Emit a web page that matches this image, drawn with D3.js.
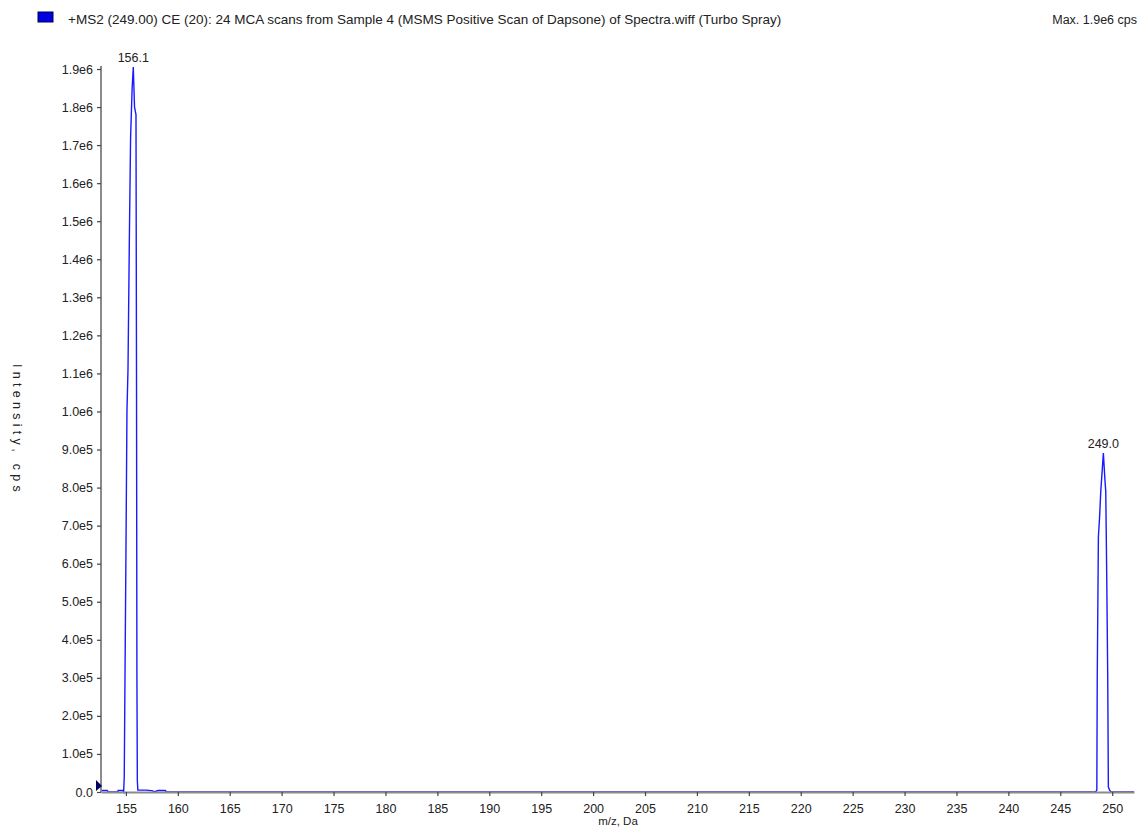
<!DOCTYPE html>
<html>
<head>
<meta charset="utf-8">
<script src="https://cdn.jsdelivr.net/npm/d3@7"></script>
<style>
  body { margin: 0; background: #fff; }
  svg text { font-family: "Liberation Sans", Arial, sans-serif; fill: #222; }
</style>
</head>
<body>
<svg width="1144" height="829"></svg>
<script>
// Spectrum profile (m/z, intensity in cps)
var mzValues = [152.6, 152.7, 153.2, 153.3, 154.2, 154.25, 154.7, 154.78, 154.84, 154.9,
                155.02, 155.1, 155.2, 155.33, 155.45, 155.6, 155.71, 155.83, 155.97, 156.02,
                156.06, 156.1, 156.15, 156.6, 157.0, 157.6, 157.7, 158.1, 158.8, 158.9,
                248.4, 248.52, 248.56, 248.67, 248.78, 248.9, 249.0, 249.15, 249.3, 249.38,
                249.47, 249.57, 249.63, 249.75, 249.89, 252.1];
var intensityValues = [0, 4000, 4000, 0, 0, 4000, 4000, 0, 40000, 260000,
                       690000, 1000000, 1110000, 1450000, 1720000, 1850000, 1905000, 1800000, 1780000, 1100000,
                       300000, 30000, 5000, 5000, 5000, 3000, 0, 4000, 4000, 0,
                       0, 5000, 300000, 670000, 720000, 790000, 830000, 891000, 820000, 790000,
                       576000, 300000, 13000, 5000, 0, 0];

// Peak labels (apex m/z in the profile, label text)
var peakMz = [155.71, 249.15];
var peakLabels = ["156.1", "249.0"];

// Axis ticks
var xTicks = d3.range(155, 251, 5);
var yTicks = d3.range(0, 1900001, 100000);

var titleText = "+MS2 (249.00) CE (20): 24 MCA scans from Sample 4 (MSMS Positive Scan of Dapsone) of Spectra.wiff (Turbo Spray)";
var maxText = "Max. 1.9e6 cps";

var svg = d3.select("svg"),
    width = +svg.attr("width"),
    height = +svg.attr("height");

var x = d3.scaleLinear()
    .domain([152.6, 252.1])
    .range([101, 1134]);

var y = d3.scaleLinear()
    .domain([0, 1900000])
    .range([792, 69]);

var spectrum = mzValues.map(function(d, i) { return [d, intensityValues[i]]; });

// header: legend swatch + title
svg.append("rect")
    .attr("x", 38).attr("y", 12)
    .attr("width", 15).attr("height", 10)
    .attr("fill", "#0000e0")
    .attr("stroke", "#000050")
    .attr("stroke-width", 1);

svg.append("text")
    .attr("x", 68).attr("y", 24)
    .style("font-size", "13.5px")
    .text(titleText);

svg.append("text")
    .attr("x", 1137).attr("y", 24)
    .attr("text-anchor", "end")
    .style("font-size", "12.5px")
    .text(maxText);

// spectrum line
svg.append("path")
    .datum(spectrum)
    .attr("fill", "none")
    .attr("stroke", "#1a1aff")
    .attr("stroke-width", 1.4)
    .attr("d", d3.line()
        .x(function(d) { return x(d[0]); })
        .y(function(d) { return y(d[1]); }));

// axes
var xAxis = svg.append("g")
    .attr("transform", "translate(0," + y(0) + ")")
    .call(d3.axisBottom(x).tickValues(xTicks).tickSize(4).tickSizeOuter(0));

var yAxis = svg.append("g")
    .attr("transform", "translate(" + x.range()[0] + ",0)")
    .call(d3.axisLeft(y).tickValues(yTicks).tickSize(4).tickSizeOuter(0).tickPadding(4)
        .tickFormat(function(d) {
            if (d === 0) return "0.0";
            return d.toExponential(1).replace("+", "");
        }));

[xAxis, yAxis].forEach(function(g) {
    g.select(".domain").attr("stroke", "#8a8a8a").attr("stroke-width", 2);
    g.selectAll(".tick line").attr("stroke", "#444").attr("stroke-width", 1.2);
    g.selectAll(".tick text")
        .style("font-family", "Liberation Sans, Arial, sans-serif")
        .style("font-size", "12.5px")
        .attr("fill", "#222");
});
yAxis.select(".domain").attr("d", "M0," + y(0) + "V" + (y(1900000) - 3));
xAxis.selectAll(".tick text").attr("y", 12);

// small marker at the bottom of the y axis
svg.append("path")
    .attr("d", "M" + (x.range()[0] - 5) + "," + (y(0) - 12) +
               "L" + (x.range()[0] + 1) + "," + (y(0) - 6) +
               "L" + (x.range()[0] - 5) + "," + (y(0) - 1) + "Z")
    .attr("fill", "#000060");

// peak labels
svg.selectAll("peakLabel")
    .data(peakMz)
    .enter()
    .append("text")
    .attr("x", function(d) { return x(d); })
    .attr("y", function(d) { return y(intensityValues[mzValues.indexOf(d)]) - 5; })
    .attr("text-anchor", "middle")
    .style("font-size", "12.5px")
    .text(function(d, i) { return peakLabels[i]; });

// axis titles
svg.append("text")
    .attr("x", 618).attr("y", 825)
    .attr("text-anchor", "middle")
    .style("font-size", "11.5px")
    .text("m/z, Da");

svg.append("text")
    .attr("transform", "translate(13,430) rotate(90)")
    .attr("text-anchor", "middle")
    .style("font-size", "12.5px")
    .style("letter-spacing", "4.3px")
    .text("Intensity, cps");
</script>
</body>
</html>
